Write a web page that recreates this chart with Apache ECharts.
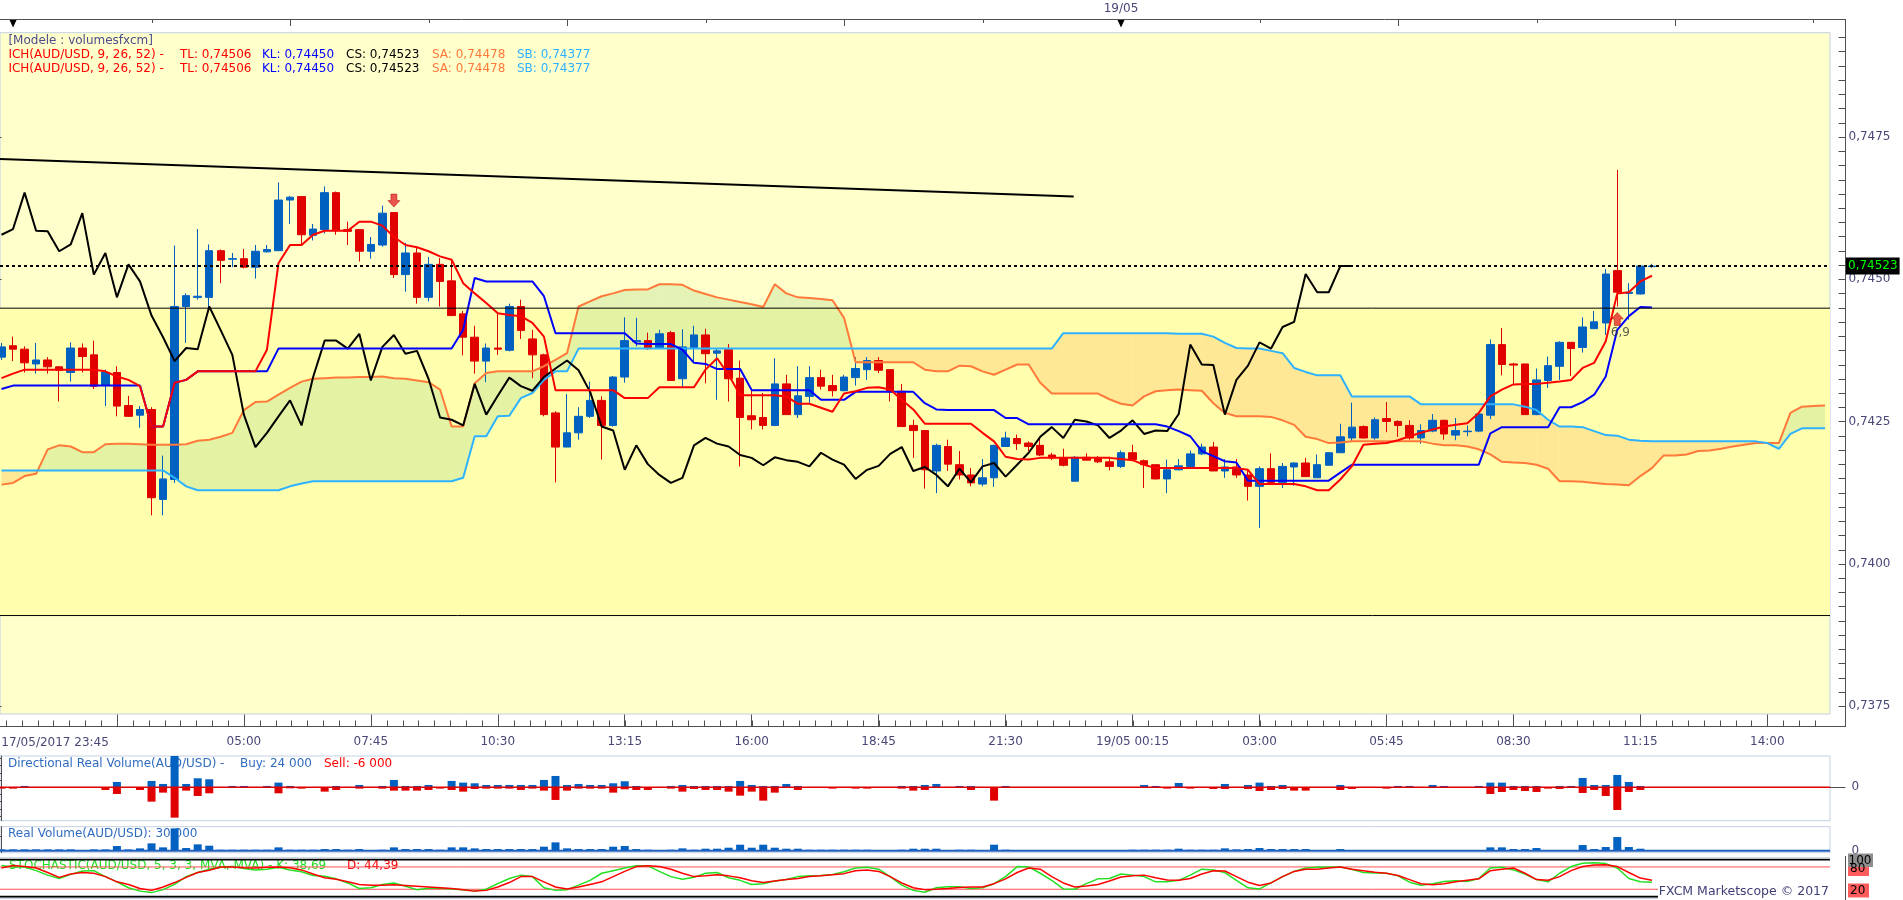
<!DOCTYPE html>
<html><head><meta charset="utf-8"><title>AUD/USD Ichimoku</title>
<script src="https://cdn.jsdelivr.net/npm/echarts@6.0.0/dist/echarts.min.js"></script>
<style>html,body{margin:0;padding:0;background:#fff;overflow:hidden}#chart{width:1903px;height:900px}</style>
</head><body><div id="chart"></div><script>
// ---------- DATA ----------
const opens = [0.74363,0.74383,0.74377,0.74351,0.74358,0.74346,0.74336,0.74379,0.74367,0.74313,
0.74336,0.74278,0.74261,0.74271,0.74113,0.74148,0.74452,0.74468,0.74468,0.74550,
0.74535,0.74536,0.74521,0.74548,0.74550,0.74639,0.74645,0.74577,0.74587,0.74652,
0.74587,0.74587,0.74549,0.74560,0.74617,0.74508,0.74546,0.74468,0.74526,0.74497,
0.74439,0.74398,0.74356,0.74379,0.74375,0.74452,0.74395,0.74367,0.74265,0.74205,
0.74230,0.74259,0.74287,0.74243,0.74328,0.74390,0.74392,0.74378,0.74406,0.74325,
0.74380,0.74402,0.74370,0.74376,0.74326,0.74260,0.74257,0.74243,0.74316,0.74262,
0.74294,0.74327,0.74313,0.74304,0.74327,0.74341,0.74357,0.74341,0.74303,0.74243,
0.74234,0.74163,0.74206,0.74174,0.74156,0.74140,0.74151,0.74206,0.74220,0.74212,
0.74208,0.74191,0.74185,0.74145,0.74187,0.74185,0.74179,0.74171,0.74195,0.74181,
0.74174,0.74149,0.74165,0.74171,0.74193,0.74205,0.74163,0.74170,0.74156,0.74136,
0.74167,0.74143,0.74170,0.74177,0.74151,0.74173,0.74195,0.74221,0.74241,0.74221,
0.74255,0.74250,0.74243,0.74221,0.74233,0.74252,0.74226,0.74232,0.74233,0.74261,
0.74385,0.74351,0.74351,0.74262,0.74322,0.74347,0.74389,0.74380,0.74413,0.74423,
0.74515,0.74475,0.74474,0.74522];
const closes = [0.74381,0.74377,0.74353,0.74358,0.74346,0.74340,0.74379,0.74364,0.74312,0.74336,
0.74277,0.74259,0.74271,0.74116,0.74149,0.74452,0.74471,0.74470,0.74550,0.74533,
0.74536,0.74521,0.74549,0.74552,0.74639,0.74644,0.74578,0.74588,0.74652,0.74585,
0.74584,0.74549,0.74561,0.74616,0.74508,0.74546,0.74468,0.74526,0.74496,0.74436,
0.74398,0.74356,0.74379,0.74377,0.74452,0.74410,0.74367,0.74262,0.74205,0.74230,
0.74259,0.74287,0.74243,0.74328,0.74392,0.74392,0.74378,0.74404,0.74322,0.74381,
0.74402,0.74369,0.74374,0.74325,0.74257,0.74253,0.74243,0.74316,0.74262,0.74295,
0.74327,0.74312,0.74304,0.74328,0.74343,0.74357,0.74340,0.74302,0.74241,0.74234,
0.74165,0.74208,0.74175,0.74156,0.74142,0.74151,0.74208,0.74221,0.74211,0.74206,
0.74191,0.74186,0.74173,0.74187,0.74182,0.74179,0.74171,0.74195,0.74183,0.74174,
0.74149,0.74165,0.74172,0.74193,0.74205,0.74163,0.74170,0.74156,0.74136,0.74167,
0.74143,0.74171,0.74177,0.74153,0.74174,0.74195,0.74223,0.74240,0.74221,0.74253,
0.74250,0.74243,0.74221,0.74234,0.74252,0.74228,0.74234,0.74233,0.74263,0.74385,
0.74350,0.74349,0.74262,0.74323,0.74348,0.74389,0.74378,0.74416,0.74425,0.74509,
0.74477,0.74477,0.74523,0.74523];
const lows = [0.74358,0.74356,0.74336,0.74334,0.74334,0.74285,0.74320,0.74336,0.74307,0.74277,
0.74259,0.74258,0.74239,0.74085,0.74085,0.74142,0.74388,0.74464,0.74451,0.74493,
0.74521,0.74519,0.74501,0.74547,0.74550,0.74597,0.74560,0.74568,0.74580,0.74578,
0.74560,0.74531,0.74536,0.74557,0.74502,0.74478,0.74457,0.74461,0.74452,0.74436,
0.74366,0.74334,0.74319,0.74367,0.74373,0.74395,0.74326,0.74259,0.74143,0.74205,
0.74218,0.74256,0.74183,0.74241,0.74318,0.74382,0.74376,0.74378,0.74322,0.74309,
0.74356,0.74317,0.74288,0.74285,0.74171,0.74236,0.74236,0.74243,0.74262,0.74256,
0.74282,0.74306,0.74294,0.74303,0.74313,0.74323,0.74335,0.74285,0.74241,0.74186,
0.74132,0.74124,0.74163,0.74148,0.74136,0.74136,0.74135,0.74206,0.74200,0.74198,
0.74189,0.74182,0.74171,0.74145,0.74182,0.74177,0.74164,0.74168,0.74182,0.74133,
0.74148,0.74124,0.74164,0.74168,0.74191,0.74163,0.74151,0.74151,0.74111,0.74063,
0.74142,0.74133,0.74137,0.74153,0.74151,0.74173,0.74195,0.74214,0.74220,0.74218,
0.74231,0.74223,0.74218,0.74211,0.74231,0.74218,0.74217,0.74224,0.74231,0.74254,
0.74331,0.74315,0.74262,0.74261,0.74309,0.74323,0.74330,0.74371,0.74413,0.74402,
0.74452,0.74429,0.74473,0.74520];
const highs = [0.74388,0.74399,0.74382,0.74388,0.74363,0.74347,0.74389,0.74387,0.74392,0.74341,
0.74347,0.74295,0.74277,0.74275,0.74190,0.74559,0.74475,0.74588,0.74561,0.74552,
0.74546,0.74553,0.74560,0.74560,0.74670,0.74646,0.74645,0.74597,0.74663,0.74654,
0.74601,0.74588,0.74574,0.74629,0.74617,0.74564,0.74557,0.74539,0.74537,0.74534,
0.74444,0.74418,0.74387,0.74440,0.74457,0.74464,0.74411,0.74369,0.74268,0.74298,
0.74275,0.74320,0.74294,0.74330,0.74433,0.74432,0.74406,0.74411,0.74409,0.74412,
0.74418,0.74413,0.74379,0.74386,0.74357,0.74306,0.74300,0.74361,0.74332,0.74347,
0.74347,0.74341,0.74332,0.74332,0.74363,0.74363,0.74363,0.74341,0.74316,0.74253,
0.74234,0.74211,0.74218,0.74198,0.74168,0.74184,0.74209,0.74232,0.74227,0.74215,
0.74221,0.74195,0.74202,0.74189,0.74194,0.74189,0.74188,0.74199,0.74209,0.74183,
0.74174,0.74183,0.74184,0.74199,0.74211,0.74214,0.74184,0.74184,0.74165,0.74171,
0.74194,0.74177,0.74178,0.74186,0.74192,0.74196,0.74246,0.74283,0.74243,0.74257,
0.74284,0.74252,0.74252,0.74245,0.74263,0.74253,0.74256,0.74243,0.74264,0.74394,
0.74414,0.74353,0.74351,0.74343,0.74364,0.74391,0.74389,0.74433,0.74444,0.74518,
0.74692,0.74493,0.74525,0.74527];
const tenkan = [0.74326,0.74334,0.74341,0.74341,0.74341,0.74341,0.74341,0.74341,0.74341,0.74338,
0.74329,0.74323,0.74312,0.74241,0.74241,0.74318,0.74323,0.74338,0.74338,0.74338,
0.74338,0.74338,0.74338,0.74376,0.74528,0.74560,0.74560,0.74578,0.74585,0.74585,
0.74585,0.74601,0.74601,0.74594,0.74574,0.74560,0.74556,0.74549,0.74540,0.74534,
0.74493,0.74475,0.74458,0.74440,0.74437,0.74435,0.74423,0.74399,0.74305,0.74305,
0.74305,0.74305,0.74305,0.74305,0.74291,0.74291,0.74291,0.74310,0.74310,0.74310,
0.74310,0.74341,0.74361,0.74332,0.74296,0.74296,0.74296,0.74296,0.74294,0.74281,
0.74281,0.74274,0.74267,0.74299,0.74303,0.74309,0.74310,0.74306,0.74288,0.74271,
0.74246,0.74246,0.74246,0.74246,0.74246,0.74230,0.74215,0.74188,0.74184,0.74183,
0.74186,0.74186,0.74186,0.74186,0.74186,0.74186,0.74186,0.74184,0.74182,0.74174,
0.74168,0.74168,0.74168,0.74168,0.74168,0.74168,0.74168,0.74168,0.74165,0.74140,
0.74140,0.74140,0.74140,0.74136,0.74129,0.74129,0.74148,0.74171,0.74209,0.74211,
0.74212,0.74217,0.74224,0.74230,0.74236,0.74241,0.74244,0.74247,0.74265,0.74294,
0.74306,0.74315,0.74316,0.74316,0.74318,0.74320,0.74323,0.74344,0.74353,0.74391,
0.74475,0.74477,0.74496,0.74506];
const kijun = [0.74307,0.74313,0.74313,0.74313,0.74313,0.74313,0.74313,0.74313,0.74313,0.74313,
0.74313,0.74313,0.74313,0.74241,0.74241,0.74318,0.74323,0.74338,0.74338,0.74338,
0.74338,0.74338,0.74338,0.74338,0.74378,0.74378,0.74378,0.74378,0.74378,0.74378,
0.74378,0.74378,0.74378,0.74378,0.74378,0.74378,0.74378,0.74378,0.74378,0.74378,
0.74411,0.74502,0.74496,0.74496,0.74496,0.74496,0.74496,0.74470,0.74405,0.74405,
0.74405,0.74405,0.74405,0.74405,0.74405,0.74387,0.74386,0.74386,0.74386,0.74376,
0.74353,0.74351,0.74342,0.74342,0.74342,0.74305,0.74305,0.74305,0.74305,0.74305,
0.74305,0.74288,0.74288,0.74288,0.74302,0.74302,0.74302,0.74302,0.74302,0.74302,
0.74282,0.74271,0.74270,0.74270,0.74270,0.74270,0.74270,0.74256,0.74256,0.74245,
0.74245,0.74245,0.74245,0.74245,0.74245,0.74245,0.74245,0.74245,0.74245,0.74245,
0.74245,0.74241,0.74233,0.74224,0.74198,0.74189,0.74180,0.74178,0.74146,0.74146,
0.74146,0.74146,0.74146,0.74146,0.74146,0.74146,0.74160,0.74174,0.74174,0.74174,
0.74174,0.74174,0.74174,0.74174,0.74174,0.74174,0.74174,0.74174,0.74174,0.74229,
0.74240,0.74240,0.74240,0.74240,0.74240,0.74275,0.74275,0.74284,0.74297,0.74329,
0.74411,0.74435,0.74451,0.74450];
const senkouA = [0.74139,0.74142,0.74154,0.74158,0.74201,0.74208,0.74206,0.74196,0.74196,0.74210,
0.74211,0.74211,0.74210,0.74209,0.74209,0.74209,0.74210,0.74216,0.74218,0.74223,
0.74230,0.74270,0.74284,0.74285,0.74297,0.74309,0.74320,0.74325,0.74326,0.74327,
0.74327,0.74328,0.74328,0.74329,0.74326,0.74325,0.74322,0.74319,0.74306,0.74241,
0.74241,0.74317,0.74335,0.74338,0.74338,0.74338,0.74338,0.74347,0.74358,0.74370,
0.74452,0.74461,0.74470,0.74475,0.74481,0.74482,0.74482,0.74491,0.74491,0.74490,
0.74480,0.74474,0.74468,0.74464,0.74460,0.74456,0.74451,0.74491,0.74475,0.74468,
0.74467,0.74465,0.74463,0.74432,0.74354,0.74354,0.74354,0.74354,0.74354,0.74354,
0.74341,0.74338,0.74338,0.74348,0.74347,0.74338,0.74332,0.74341,0.74350,0.74350,
0.74318,0.74299,0.74299,0.74299,0.74299,0.74299,0.74289,0.74281,0.74278,0.74294,
0.74303,0.74305,0.74306,0.74305,0.74304,0.74282,0.74265,0.74259,0.74259,0.74259,
0.74258,0.74252,0.74244,0.74223,0.74219,0.74212,0.74213,0.74215,0.74215,0.74215,
0.74215,0.74215,0.74215,0.74215,0.74211,0.74208,0.74208,0.74206,0.74201,0.74192,
0.74179,0.74178,0.74177,0.74174,0.74167,0.74145,0.74145,0.74144,0.74142,0.74140,
0.74139,0.74138,0.74154,0.74168,0.74190,0.74190,0.74192,0.74198,0.74199,0.74202,
0.74206,0.74209,0.74212,0.74212,0.74212,0.74265,0.74276,0.74277,0.74278];
const senkouB = [0.74164,0.74164,0.74164,0.74164,0.74164,0.74164,0.74164,0.74164,0.74164,0.74164,
0.74164,0.74164,0.74164,0.74164,0.74164,0.74151,0.74136,0.74129,0.74129,0.74129,
0.74129,0.74129,0.74129,0.74129,0.74129,0.74136,0.74141,0.74145,0.74145,0.74145,
0.74145,0.74145,0.74145,0.74145,0.74145,0.74145,0.74145,0.74145,0.74145,0.74145,
0.74151,0.74224,0.74224,0.74259,0.74260,0.74291,0.74300,0.74323,0.74338,0.74338,
0.74378,0.74378,0.74378,0.74378,0.74378,0.74378,0.74378,0.74378,0.74378,0.74378,
0.74378,0.74378,0.74378,0.74378,0.74378,0.74378,0.74378,0.74378,0.74378,0.74378,
0.74378,0.74378,0.74378,0.74378,0.74378,0.74378,0.74378,0.74378,0.74378,0.74378,
0.74378,0.74378,0.74378,0.74378,0.74378,0.74378,0.74378,0.74378,0.74378,0.74378,
0.74378,0.74378,0.74405,0.74405,0.74405,0.74405,0.74405,0.74405,0.74405,0.74405,
0.74405,0.74405,0.74404,0.74404,0.74404,0.74399,0.74388,0.74379,0.74378,0.74378,
0.74374,0.74370,0.74344,0.74337,0.74331,0.74331,0.74331,0.74294,0.74294,0.74294,
0.74294,0.74294,0.74294,0.74280,0.74280,0.74280,0.74280,0.74280,0.74280,0.74280,
0.74280,0.74280,0.74276,0.74270,0.74253,0.74241,0.74241,0.74240,0.74233,0.74226,
0.74225,0.74218,0.74216,0.74215,0.74215,0.74215,0.74215,0.74215,0.74215,0.74215,
0.74215,0.74215,0.74215,0.74212,0.74202,0.74228,0.74238,0.74238,0.74238];
const trendLine = [[-0.13, 0.74711], [92.9, 0.74645]];
const zoneLow = 0.73909, zoneHigh = 0.74449, lastPrice = 0.74523;
const downSignals = [[34, 0.74638]];
const upSignals = [[140, 0.74430]];
const upSignalText = '6,9';
const buyVol = [0,0,24,0,0,0,0,0,0,0, 96,0,0,114,60,582,60,162,144,0, 24,24,0,24,84,24,0,0,0,24,
0,42,0,24,132,24,24,42,0,114, 84,72,42,42,42,42,42,132,204,42, 60,42,42,72,108,24,0,0,24,42,
24,24,24,24,114,42,24,24,60,24, 0,0,0,0,0,0,0,0,24,24, 42,60,0,24,24,0,0,24,0,0,
0,0,0,0,0,0,0,0,0,42, 24,0,78,0,0,0,60,0,42,84, 24,42,0,0,0,0,42,0,0,0,
0,24,24,0,42,24,0,0,24,84, 84,24,24,24,0,24,24,168,42,42, 222,96,24,0];
const sellVol = [-24,-24,0,0,0,0,0,0,0,-48, -120,0,-48,-258,-96,-546,-60,-156,-108,0, 0,0,0,0,-108,-18,-24,0,-78,-48,
0,-24,0,-24,-60,-60,-60,-48,-24,-48, -78,-30,-24,-24,-24,-48,-24,-60,-228,-60, -24,-24,-24,-96,-36,-48,-48,0,-24,-78,
-30,-48,-48,-78,-150,-78,-240,-96,0,-48, 0,0,-24,0,-24,-24,0,0,-24,-60, -48,0,0,0,-48,0,-240,0,0,0,
0,0,0,0,0,0,0,0,0,0, 0,-24,0,-24,0,-30,-30,0,-30,-66, -48,-30,-60,-60,0,0,-48,-30,0,0,
-24,0,0,0,0,0,0,0,0,-120, -84,-48,-66,-84,-24,-30,0,-102,-48,-156, -408,-84,-48,0];
const realVol = [68,68,68,68,68,68,68,0,68,68, 238,68,119,374,170,1139,136,323,255,51, 51,51,51,51,170,51,51,51,85,85,
51,85,0,51,170,85,85,85,51,170, 170,119,85,85,85,85,85,204,425,119, 85,85,85,204,238,85,51,0,51,119,
51,102,102,153,306,153,306,153,102,102, 51,51,51,51,51,51,0,0,51,102, 102,102,0,51,51,0,306,51,0,0,
0,0,0,0,0,0,0,0,51,51, 51,51,102,51,51,51,119,68,85,136, 85,85,85,85,0,0,85,34,34,0,
34,34,34,0,34,34,0,0,34,170, 170,85,85,136,34,34,34,289,85,187, 697,187,102,0];
const stochK = [84,80,80,70,58,49,60,69,70,54, 40,24,15,11,19,33,54,65,74,80, 81,76,72,74,79,72,67,57,55,48,
37,22,24,33,37,28,19,23,23,21, 19,15,20,35,49,58,54,24,17,19, 31,44,63,70,77,83,83,68,54,47,
52,63,65,51,44,33,35,42,46,54, 56,57,60,67,77,79,74,54,31,17, 12,24,27,27,22,24,35,54,81,80,
63,44,21,20,35,48,49,61,58,54, 40,40,44,58,74,72,65,44,24,21, 37,54,68,77,79,80,80,74,65,64,
63,56,39,31,35,41,43,41,49,77, 79,72,61,46,40,63,81,90,91,89, 77,49,40,38.69];
const stochD = [77,84,81,77,65,52,61,65,63,54, 40,33,22,17,26,38,52,65,71,80, 80,78,77,79,80,78,72,61,51,47,
40,33,31,31,32,30,28,26,24,22, 19,15,17,26,38,54,54,40,26,21, 26,33,40,54,68,81,83,81,74,63,
54,56,59,56,51,43,38,42,46,49, 54,56,59,62,70,72,68,54,37,24, 19,20,22,25,26,26,35,48,65,77,
74,54,37,26,29,33,42,53,56,58, 51,45,44,49,61,70,69,54,39,30, 37,54,68,74,74,77,80,74,70,66,
63,57,46,35,32,35,40,44,48,70, 74,77,63,46,44,54,70,81,85,86, 81,65,50,44.39];
const stochLevels = [80, 20];
const stochBounds = [100, 0];
const priceTicks = [0.7375, 0.7400, 0.7425, 0.7450, 0.7475];
const timeTickBars = [0, 21, 32, 43, 54, 65, 76, 87, 98, 109, 120, 131, 142, 153];
const timeTickLabels = ['17/05/2017 23:45','05:00','07:45','10:30','13:15','16:00','18:45','21:30','19/05 00:15','03:00','05:45','08:30','11:15','14:00'];
const dayMarkBars = [1, 97];
const dayMarkLabel = '19/05';

// ---------- LAYOUT / STYLE ----------
const FONT = 'DejaVu Sans';
const TXT = '#484878';
const UP = '#0061c1', DOWN = '#e00000';
const X_MIN = -0.13, X_MAX = 158.43, Y_MIN = 0.73736, Y_MAX = 0.74933;
const AX = '#505050';
const priceFmt = v => v.toFixed(4).replace('.', ',');
const minorPriceTicks = []; for (let k = 0; k < 48; k++) minorPriceTicks.push(+(0.7375 + k * 0.00025).toFixed(5));
const majorTimeTicks = []; for (let b = 10; b <= 158; b += 11) majorTimeTicks.push(b);
const minorTimeTicks = []; for (let k = -7; 10 + k * 1.375 <= 158.4; k++) minorTimeTicks.push(10 + k * 1.375);
const topLongTicks = [25, 49, 73, 97, 121, 145], topShortTicks = [13, 37, 61, 85, 109, 133, 157];

const pts = arr => arr.map((v, i) => [i, v]);
const flat = v => [[X_MIN, v], [X_MAX, v]];
const candleData = opens.map((o, i) => [i, o, closes[i], lows[i], highs[i]]);
const chikou = closes.slice(26).map((c, i) => [i, c]);
const cloudData = senkouA.map((a, i) => [i, a, senkouB[i]]);

const GREEN = 'rgba(190,225,150,0.42)', PEACH = 'rgba(255,205,120,0.45)';
function cloudItem(params, api) {
  const i = api.value(0);
  if (i >= senkouA.length - 1) return null;
  const a0 = senkouA[i], b0 = senkouB[i], a1 = senkouA[i + 1], b1 = senkouB[i + 1];
  const d0 = a0 - b0, d1 = a1 - b1;
  const P = (x, y) => api.coord([x, y]);
  const shapes = [];
  const poly = (points, col) => shapes.push({type: 'polygon', shape: {points}, style: {fill: col}, silent: true});
  if (d0 * d1 >= 0) {
    poly([P(i, a0), P(i + 1, a1), P(i + 1, b1), P(i, b0)], (d0 + d1) >= 0 ? GREEN : PEACH);
  } else {
    const t = d0 / (d0 - d1);
    const xc = i + t, yc = a0 + (a1 - a0) * t;
    poly([P(i, a0), P(xc, yc), P(i, b0)], d0 > 0 ? GREEN : PEACH);
    poly([P(xc, yc), P(i + 1, a1), P(i + 1, b1)], d1 > 0 ? GREEN : PEACH);
  }
  return {type: 'group', children: shapes};
}

const tstyle = (text, x, y, fill, size, align, z) => ({
  type: 'text', x, y, z: z == null ? 20 : z, silent: true,
  style: {text, fill, fontFamily: FONT, fontSize: size || 12,
    align: align || 'left', textAlign: align || 'left', verticalAlign: 'middle', textVerticalAlign: 'middle'}
});
const hline = (x1, x2, y, col, w, z) => ({type: 'line', z: z || 15, silent: true, shape: {x1, y1: y, x2, y2: y}, style: {stroke: col, lineWidth: w || 1}});
const vline = (x, y1, y2, col, w, z) => ({type: 'line', z: z || 15, silent: true, shape: {x1: x, y1, x2: x, y2}, style: {stroke: col, lineWidth: w || 1}});
const rect = (x, y, w, h, fill, z) => ({type: 'rect', z: z || 18, silent: true, shape: {x, y, width: w, height: h}, style: {fill}});

const baseGraphic = [
  hline(0, 1846, 19.5, AX), vline(1845.5, 19.5, 727, AX), hline(0, 1846, 726.5, AX),
  tstyle('[Modele : volumesfxcm]', 8.4, 40.7, '#4c4c8c'),
  tstyle('ICH(AUD/USD, 9, 26, 52) -', 8.4, 54.5, '#ff0000'), tstyle('TL: 0,74506', 180, 54.5, '#ff0000'),
  tstyle('KL: 0,74450', 262, 54.5, '#0000ff'), tstyle('CS: 0,74523', 346, 54.5, '#000000'),
  tstyle('SA: 0,74478', 432, 54.5, '#ff7a3a'), tstyle('SB: 0,74377', 517, 54.5, '#2eb2ff'),
  tstyle('ICH(AUD/USD, 9, 26, 52) -', 8.4, 68.5, '#ff0000'), tstyle('TL: 0,74506', 180, 68.5, '#ff0000'),
  tstyle('KL: 0,74450', 262, 68.5, '#0000ff'), tstyle('CS: 0,74523', 346, 68.5, '#000000'),
  tstyle('SA: 0,74478', 432, 68.5, '#ff7a3a'), tstyle('SB: 0,74377', 517, 68.5, '#2eb2ff'),
  tstyle(timeTickLabels[0], 1.3, 742.7, TXT, 12),
  tstyle('Directional Real Volume(AUD/USD) -', 8, 764.3, '#2f6cc0', 12, 'left', 1),
  tstyle('Buy: 24 000', 240, 764.3, '#2f6cc0', 12, 'left', 1),
  tstyle('Sell: -6 000', 324, 764.3, '#ff0000', 12, 'left', 1),
  tstyle('Real Volume(AUD/USD): 30 000', 8, 834, '#2f6cc0', 12, 'left', 1),
  tstyle('STOCHASTIC(AUD/USD, 5, 3, 3, MVA, MVA) - K: 38,69', 9, 866, '#22dd22', 12, 'left', 1),
  tstyle('D: 44,39', 347, 866, '#ff0000', 12, 'left', 1),
  hline(0, 1830, 857.7, '#c5d1e3'), hline(0, 1830, 898.5, '#c5d1e3'), vline(1845.5, 856, 900, AX),
  rect(1848, 862, 21, 14, '#ff5c5c', 18), tstyle('80', 1850, 869, '#000', 12),
  rect(1848, 853.5, 25, 13.5, '#8f8f8f', 19), tstyle('100', 1848.5, 860.5, '#000', 12, 'left', 21),
  rect(1848, 883.5, 21, 14, '#ff5c5c', 18), tstyle('20', 1850, 890.5, '#000', 12),
  rect(1658, 884, 172, 16, '#ffffff', 30),
  tstyle('FXCM Marketscope \u00a9 2017', 1829, 891.7, '#404078', 12.5, 'right', 31)
];

const hiddenX = g => ({type: 'value', gridIndex: g, min: X_MIN, max: X_MAX, show: false});
const gridBase = {containLabel: false, outerBoundsMode: 'none'};
const levelLine = (name, v, style, extra) => Object.assign({name, type: 'line', xAxisIndex: 0, yAxisIndex: 0, z: 5, silent: true,
  data: flat(v), showSymbol: false, lineStyle: style}, extra || {});

const option = {
  animation: false,
  backgroundColor: '#ffffff',
  textStyle: {fontFamily: FONT},
  grid: [
    Object.assign({left: 0, top: 32.7, width: 1830, height: 681.3, show: true, backgroundColor: '#ffffcc', borderColor: '#c3d0e4', borderWidth: 1}, gridBase),
    Object.assign({left: 0, top: 756, width: 1830, height: 64.7, show: true, backgroundColor: 'transparent', borderColor: '#c5d1e3', borderWidth: 1}, gridBase),
    Object.assign({left: 0, top: 826.7, width: 1830, height: 26, show: true, backgroundColor: 'transparent', borderColor: '#c5d1e3', borderWidth: 1}, gridBase),
    Object.assign({left: 0, top: 859.5, width: 1830, height: 37.2, show: false}, gridBase)
  ],
  xAxis: [
    {type: 'value', gridIndex: 0, min: X_MIN, max: X_MAX, position: 'bottom', offset: 12.5,
      axisLine: {show: false}, splitLine: {show: false},
      axisTick: {show: true, inside: true, length: 12, customValues: majorTimeTicks, lineStyle: {color: AX}},
      axisLabel: {show: true, customValues: timeTickBars.slice(1), formatter: v => timeTickLabels[timeTickBars.indexOf(Math.round(v))],
        color: TXT, fontFamily: FONT, fontSize: 12, margin: 9, hideOverlap: false}},
    {type: 'value', gridIndex: 0, min: X_MIN, max: X_MAX, position: 'top', offset: 13.2,
      axisLine: {show: false}, splitLine: {show: false},
      axisTick: {show: true, inside: true, length: 6.5, customValues: topLongTicks, lineStyle: {color: AX}},
      axisLabel: {show: true, customValues: [dayMarkBars[1]], formatter: () => dayMarkLabel, color: TXT, fontFamily: FONT, fontSize: 12, margin: 5}},
    hiddenX(1), hiddenX(2), hiddenX(3)
  ],
  yAxis: [
    {type: 'value', gridIndex: 0, min: Y_MIN, max: Y_MAX, position: 'right', offset: 15.5,
      axisLine: {show: false}, splitLine: {show: false},
      axisTick: {show: true, inside: true, length: 15, customValues: priceTicks, lineStyle: {color: AX}},
      axisLabel: {show: true, customValues: priceTicks, formatter: priceFmt, color: TXT, fontFamily: FONT, fontSize: 12, margin: 3}},
    {type: 'value', gridIndex: 1, min: -601, max: 563, position: 'right', offset: 15.5,
      axisLine: {show: true, lineStyle: {color: AX}}, splitLine: {show: false},
      axisTick: {show: true, inside: true, length: 4, customValues: [-520, -390, -260, -130, 130, 260, 390, 520], lineStyle: {color: AX}},
      axisLabel: {show: true, customValues: [0], formatter: () => '0', color: TXT, fontFamily: FONT, fontSize: 12, margin: 6}},
    {type: 'value', gridIndex: 2, min: -102, max: 1224, position: 'right', offset: 15.5,
      axisLine: {show: true, lineStyle: {color: AX}}, splitLine: {show: false},
      axisTick: {show: true, inside: true, length: 7, customValues: [0, 714], lineStyle: {color: AX}},
      axisLabel: {show: true, customValues: [0], formatter: () => '0', color: TXT, fontFamily: FONT, fontSize: 12, margin: 6}},
    {type: 'value', gridIndex: 3, min: 0, max: 100, show: false}
  ],
  graphic: baseGraphic,
  series: [
    {name: 'zone', type: 'line', xAxisIndex: 0, yAxisIndex: 0, z: 1, data: [], silent: true,
      markArea: {silent: true, z: 1, itemStyle: {color: '#ffffae'}, data: [[{yAxis: zoneLow}, {yAxis: zoneHigh}]]}},
    {name: 'cloud', type: 'custom', xAxisIndex: 0, yAxisIndex: 0, z: 2, silent: true,
      renderItem: cloudItem, data: cloudData, encode: {x: 0, y: [1, 2]}},
    levelLine('zoneHigh', zoneHigh, {color: '#000', width: 1, type: 'solid'}),
    levelLine('zoneLow', zoneLow, {color: '#000', width: 1, type: 'solid'}),
    {name: 'AUD/USD', type: 'candlestick', xAxisIndex: 0, yAxisIndex: 0, z: 3, barWidth: 8,
      encode: {x: 0, y: [1, 2, 3, 4]}, data: candleData,
      itemStyle: {color: UP, color0: DOWN, borderColor: UP, borderColor0: DOWN, borderWidth: 1}},
    {name: 'SA', type: 'line', xAxisIndex: 0, yAxisIndex: 0, z: 4, data: pts(senkouA), showSymbol: false, lineStyle: {color: '#ff7a3a', width: 2}},
    {name: 'SB', type: 'line', xAxisIndex: 0, yAxisIndex: 0, z: 4, data: pts(senkouB), showSymbol: false, lineStyle: {color: '#2eb2ff', width: 2}},
    {name: 'CS', type: 'line', xAxisIndex: 0, yAxisIndex: 0, z: 4, data: chikou, showSymbol: false, lineStyle: {color: '#000', width: 2}},
    {name: 'KL', type: 'line', xAxisIndex: 0, yAxisIndex: 0, z: 4, data: pts(kijun), showSymbol: false, lineStyle: {color: '#0000ff', width: 2}},
    {name: 'TL', type: 'line', xAxisIndex: 0, yAxisIndex: 0, z: 4, data: pts(tenkan), showSymbol: false, lineStyle: {color: '#ff0000', width: 2}},
    {name: 'trend', type: 'line', xAxisIndex: 0, yAxisIndex: 0, z: 4, data: trendLine, showSymbol: false, lineStyle: {color: '#000', width: 2}},
    levelLine('last', lastPrice, {color: '#000', width: 2, type: [3, 3]}, {
      endLabel: {show: true, distance: 16, formatter: () => lastPrice.toFixed(5).replace('.', ','),
        color: '#00ff00', backgroundColor: '#000000', padding: [3, 2, 2, 2], fontFamily: FONT, fontSize: 12}}),
    {name: 'sigDown', type: 'scatter', xAxisIndex: 0, yAxisIndex: 0, z: 6, data: downSignals,
      symbol: 'path://M3,0 L9,0 L9,7 L12,7 L6,14 L0,7 L3,7 Z', symbolSize: [12, 13],
      itemStyle: {color: '#e42a2a', borderColor: '#a00000', borderWidth: 0.6}},
    {name: 'sigUp', type: 'scatter', xAxisIndex: 0, yAxisIndex: 0, z: 6, data: upSignals,
      symbol: 'path://M6,0 L12,7 L9,7 L9,14 L3,14 L3,7 L0,7 Z', symbolSize: [12, 13],
      itemStyle: {color: '#e42a2a', borderColor: '#a00000', borderWidth: 0.6},
      label: {show: true, position: 'bottom', distance: 1, offset: [3, 0], formatter: () => upSignalText, color: '#333', fontFamily: FONT, fontSize: 12}},
    {name: 'Buy', type: 'bar', xAxisIndex: 2, yAxisIndex: 1, z: 3, barWidth: 8, barGap: '-100%', data: pts(buyVol), itemStyle: {color: UP}},
    {name: 'Sell', type: 'bar', xAxisIndex: 2, yAxisIndex: 1, z: 3, barWidth: 8, barGap: '-100%', data: pts(sellVol), itemStyle: {color: DOWN}},
    {name: 'dirZero', type: 'line', xAxisIndex: 2, yAxisIndex: 1, z: 4, silent: true, data: flat(0), showSymbol: false, lineStyle: {color: '#e00000', width: 1.5}},
    {name: 'Real Volume', type: 'bar', xAxisIndex: 3, yAxisIndex: 2, z: 3, barWidth: 8, data: pts(realVol), itemStyle: {color: UP}},
    {name: 'rvZero', type: 'line', xAxisIndex: 3, yAxisIndex: 2, z: 4, silent: true, data: flat(0), showSymbol: false, lineStyle: {color: '#1f5fbf', width: 2}},
    {name: 'st80', type: 'line', xAxisIndex: 4, yAxisIndex: 3, z: 3, silent: true, data: flat(stochLevels[0]), showSymbol: false, lineStyle: {color: '#ff5050', width: 1}},
    {name: 'st20', type: 'line', xAxisIndex: 4, yAxisIndex: 3, z: 3, silent: true, data: flat(stochLevels[1]), showSymbol: false, lineStyle: {color: '#ff5050', width: 1}},
    {name: 'st100', type: 'line', xAxisIndex: 4, yAxisIndex: 3, z: 3, silent: true, data: flat(stochBounds[0]), showSymbol: false, lineStyle: {color: '#000', width: 2}},
    {name: 'st0', type: 'line', xAxisIndex: 4, yAxisIndex: 3, z: 3, silent: true, data: flat(stochBounds[1]), showSymbol: false, lineStyle: {color: '#000', width: 2}},
    {name: 'K', type: 'line', xAxisIndex: 4, yAxisIndex: 3, z: 4, data: pts(stochK), showSymbol: false, lineStyle: {color: '#22e022', width: 1.5}},
    {name: 'D', type: 'line', xAxisIndex: 4, yAxisIndex: 3, z: 4, data: pts(stochD), showSymbol: false, lineStyle: {color: '#ff0000', width: 1.5}}
  ]
};

const chart = echarts.init(document.getElementById('chart'), null, {width: 1903, height: 900});
chart.setOption(option);
// decorations that need pixel positions from the axes (minor ticks, day markers)
const xpx = b => chart.convertToPixel({xAxisIndex: 0}, b);
const ypx = v => chart.convertToPixel({yAxisIndex: 0}, v);
const extra = [];
dayMarkBars.forEach(b => {
  const x = xpx(b);
  extra.push({type: 'polygon', z: 25, silent: true, shape: {points: [[x - 3.5, 20], [x + 3.5, 20], [x, 27.5]]}, style: {fill: '#000'}});
});
minorTimeTicks.forEach(b => { const x = Math.round(xpx(b)) + 0.5; extra.push(vline(x, 726.5, 720.5, AX)); });
topShortTicks.forEach(b => { const x = Math.round(xpx(b)) + 0.5; extra.push(vline(x, 19.5, 23, AX)); });
minorPriceTicks.forEach(v => { const y = Math.round(ypx(v)) + 0.5; extra.push(hline(1838.5, 1845.5, y, AX)); });
const yz = Math.round(chart.convertToPixel({yAxisIndex: 1}, 0)) + 0.5;
extra.push(hline(1830, 1845.5, yz, AX));
chart.setOption({graphic: baseGraphic.concat(extra)});
</script></body></html>
